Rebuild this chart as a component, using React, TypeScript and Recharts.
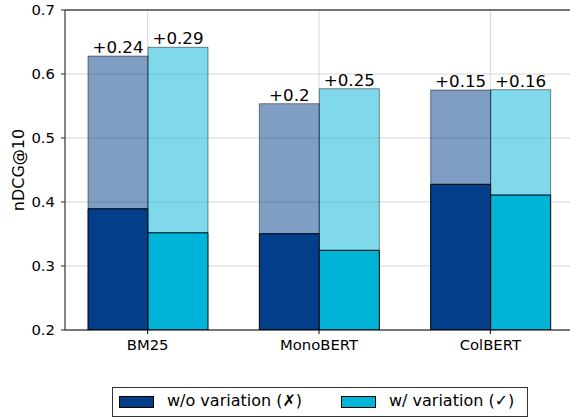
import React from "react";
import {
  BarChart,
  Bar,
  XAxis,
  YAxis,
  CartesianGrid,
  ReferenceLine,
  LabelList,
} from "recharts";

const models = ["BM25", "MonoBERT", "ColBERT"];
// nDCG@10 without / with query variation (solid part)
const baseWithout = [0.3895, 0.3505, 0.4276];
const baseWith = [0.352, 0.3245, 0.411];
// top of the translucent part
const topWithout = [0.628, 0.5536, 0.575];
const topWith = [0.6417, 0.577, 0.5755];
// annotated gains
const gainWithout = ["+0.24", "+0.2", "+0.15"];
const gainWith = ["+0.29", "+0.25", "+0.16"];
const yTicks = [0.2, 0.3, 0.4, 0.5, 0.6, 0.7];

const DARK = "#023e8a";
const CYAN = "#00b4d8";
const FONT = "DejaVu Sans";

const data = models.map((m, i) => ({
  model: m,
  baseWo: baseWithout[i],
  gainWo: topWithout[i] - baseWithout[i],
  baseW: baseWith[i],
  gainW: topWith[i] - baseWith[i],
}));

const gainLabel = (labels: string[]) => (props: any) => {
  const { x, y, width, index } = props;
  return (
    <text
      x={x + width / 2}
      y={y - 3}
      textAnchor="middle"
      fontSize={16.7}
      fontFamily={FONT}
      fill="#000"
    >
      {labels[index]}
    </text>
  );
};

function LegendBox() {
  const text: React.CSSProperties = {
    position: "absolute",
    top: 3,
    fontSize: 16,
    fontFamily: FONT,
    lineHeight: "20px",
    whiteSpace: "nowrap",
  };
  const patch: React.CSSProperties = {
    position: "absolute",
    top: 8,
    width: 33,
    height: 10,
    border: "1px solid #000",
  };
  return (
    <div
      style={{
        position: "absolute",
        left: 112,
        top: 387,
        width: 414,
        height: 28,
        border: "1px solid #333",
        background: "#fff",
      }}
    >
      <div style={{ ...patch, left: 6, background: DARK }} />
      <div style={{ ...text, left: 54 }}>w/o variation (✗)</div>
      <div style={{ ...patch, left: 228, background: CYAN }} />
      <div style={{ ...text, left: 276 }}>w/ variation (✓)</div>
    </div>
  );
}

export default function App() {
  const tick = { fontSize: 14.8, fontFamily: FONT, fill: "#000" };
  return (
    <div
      style={{
        position: "absolute",
        left: 0,
        top: 0,
        width: 570,
        height: 417,
        overflow: "hidden",
        background: "#fff",
      }}
    >
      <BarChart
        width={573}
        height={417}
        data={data}
        margin={{ top: 10, right: 0, left: 0, bottom: 57 }}
        barGap={0}
      >
        <CartesianGrid stroke="#d6d6d6" strokeWidth={1} />
        <XAxis
          dataKey="model"
          height={30}
          padding={{ left: -3, right: -3 }}
          tick={tick}
          tickSize={4}
          tickMargin={5}
          stroke="#000"
          tickLine={{ stroke: "#000" }}
        />
        <YAxis
          width={65}
          domain={[0.2, 0.7]}
          ticks={yTicks}
          allowDataOverflow
          tick={tick}
          tickSize={4}
          tickMargin={6}
          tickFormatter={(v: number) => v.toFixed(1)}
          stroke="#222"
          label={{
            content: (p: any) => {
              const vb = p.viewBox || { x: 0, y: 10, height: 320 };
              const cx = vb.x + 18;
              const cy = vb.y + vb.height / 2;
              return (
                <text
                  x={cx}
                  y={cy}
                  transform={`rotate(-90 ${cx} ${cy})`}
                  textAnchor="middle"
                  dominantBaseline="central"
                  fontSize={16}
                  fontFamily={FONT}
                  fill="#000"
                >
                  nDCG@10
                </text>
              );
            },
          }}
        />
        <ReferenceLine y={0.7} stroke="#000" strokeWidth={1.2} />
        <Bar
          dataKey="baseWo"
          stackId="wo"
          barSize={60}
          fill={DARK}
          stroke="#000"
          strokeWidth={1}
          isAnimationActive={false}
        />
        <Bar
          dataKey="gainWo"
          stackId="wo"
          barSize={60}
          fill={DARK}
          fillOpacity={0.5}
          stroke="#000"
          strokeOpacity={0.45}
          strokeWidth={1}
          isAnimationActive={false}
        >
          <LabelList dataKey="gainWo" content={gainLabel(gainWithout)} />
        </Bar>
        <Bar
          dataKey="baseW"
          stackId="w"
          barSize={60}
          fill={CYAN}
          stroke="#000"
          strokeWidth={1}
          isAnimationActive={false}
        />
        <Bar
          dataKey="gainW"
          stackId="w"
          barSize={60}
          fill={CYAN}
          fillOpacity={0.5}
          stroke="#000"
          strokeOpacity={0.45}
          strokeWidth={1}
          isAnimationActive={false}
        >
          <LabelList dataKey="gainW" content={gainLabel(gainWith)} />
        </Bar>
      </BarChart>
      <LegendBox />
    </div>
  );
}
